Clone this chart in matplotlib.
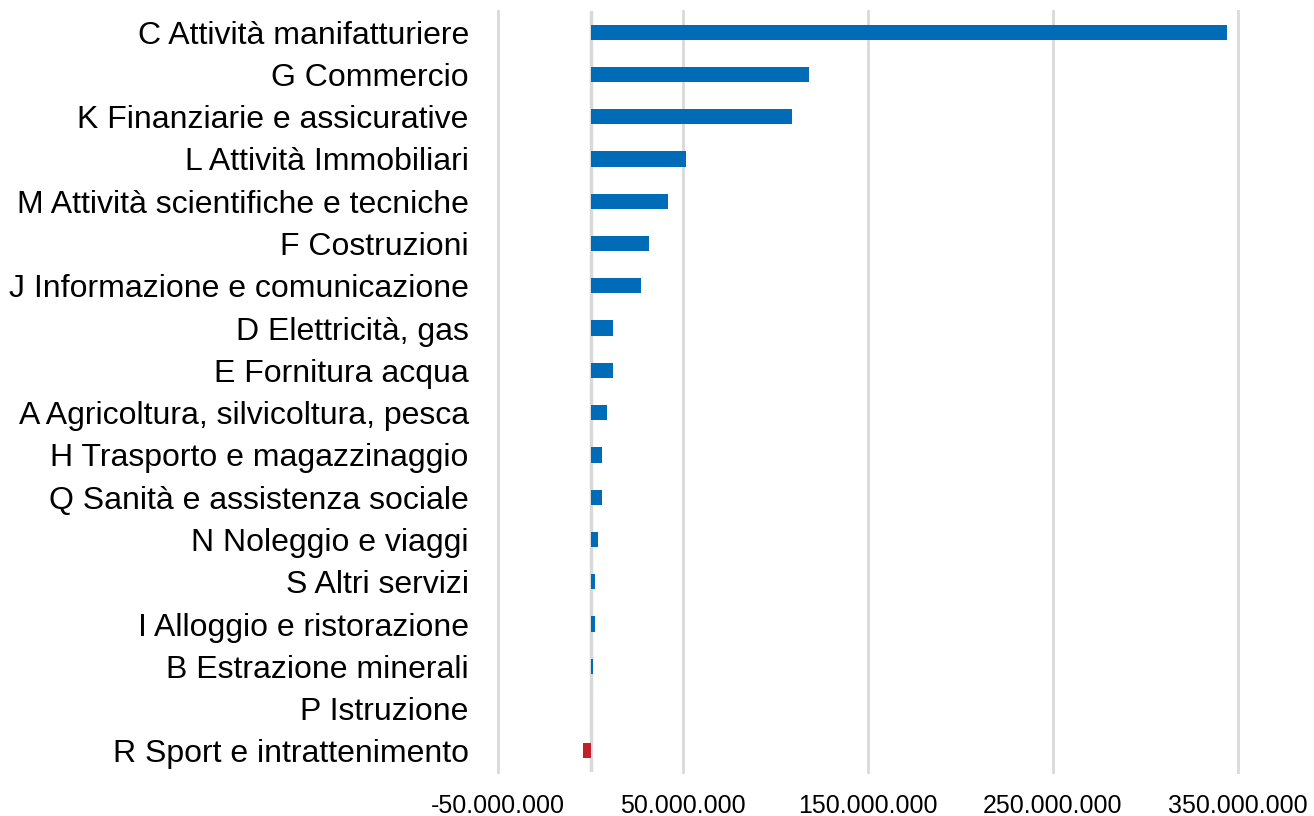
import matplotlib
matplotlib.use("Agg")
import matplotlib.pyplot as plt
from matplotlib.ticker import FuncFormatter

CATEGORIES = [
    "C Attività manifatturiere",
    "G Commercio",
    "K Finanziarie e assicurative",
    "L Attività Immobiliari",
    "M Attività scientifiche e tecniche",
    "F Costruzioni",
    "J Informazione e comunicazione",
    "D Elettricità, gas",
    "E Fornitura acqua",
    "A Agricoltura, silvicoltura, pesca",
    "H Trasporto e magazzinaggio",
    "Q Sanità e assistenza sociale",
    "N Noleggio e viaggi",
    "S Altri servizi",
    "I Alloggio e ristorazione",
    "B Estrazione minerali",
    "P Istruzione",
    "R Sport e intrattenimento",
]
VALUES = [
    344_200_000, 118_200_000, 109_000_000, 51_600_000, 41_700_000,
    31_400_000, 27_400_000, 12_400_000, 12_400_000, 8_700_000,
    6_300_000, 6_100_000, 4_200_000, 2_300_000, 2_200_000,
    1_200_000, 400_000, -3_900_000,
]
X_TICKS = [-50_000_000, 50_000_000, 150_000_000, 250_000_000, 350_000_000]

BLUE = "#006bb6"
RED = "#c0202a"
GRID = "#d9d9d9"

plt.rcParams["font.family"] = ["Liberation Sans", "DejaVu Sans"]


def fmt(v, _pos=None):
    return f"{int(round(v)):,}".replace(",", ".")


fig = plt.figure(figsize=(13.14, 8.16), dpi=100)
ax = fig.add_axes([498 / 1314, 1 - 772 / 816, (1238 - 498) / 1314, (772 - 11) / 816])

y = list(range(len(CATEGORIES)))
colors = [RED if v < 0 else BLUE for v in VALUES]
ax.barh(y, VALUES, height=0.36, color=colors, zorder=3)

ax.set_ylim(len(CATEGORIES) - 0.5, -0.5)
ax.set_xlim(-50_000_000, 350_000_000)
ax.set_yticks(y)
ax.set_yticklabels(CATEGORIES, fontsize=23)
ax.set_xticks(X_TICKS)
ax.xaxis.set_major_formatter(FuncFormatter(fmt))
ax.tick_params(axis="x", labelsize=18, length=0, pad=16)
ax.tick_params(axis="y", length=0, pad=21)

ax.grid(axis="x", color=GRID, linewidth=2, zorder=0)
for line in ax.get_xgridlines():
    line.set_clip_on(False)
ax.axvline(0, color=GRID, linewidth=2.5, zorder=1)
for sp in ax.spines.values():
    sp.set_visible(False)

fig.savefig("out.png", dpi=100)
